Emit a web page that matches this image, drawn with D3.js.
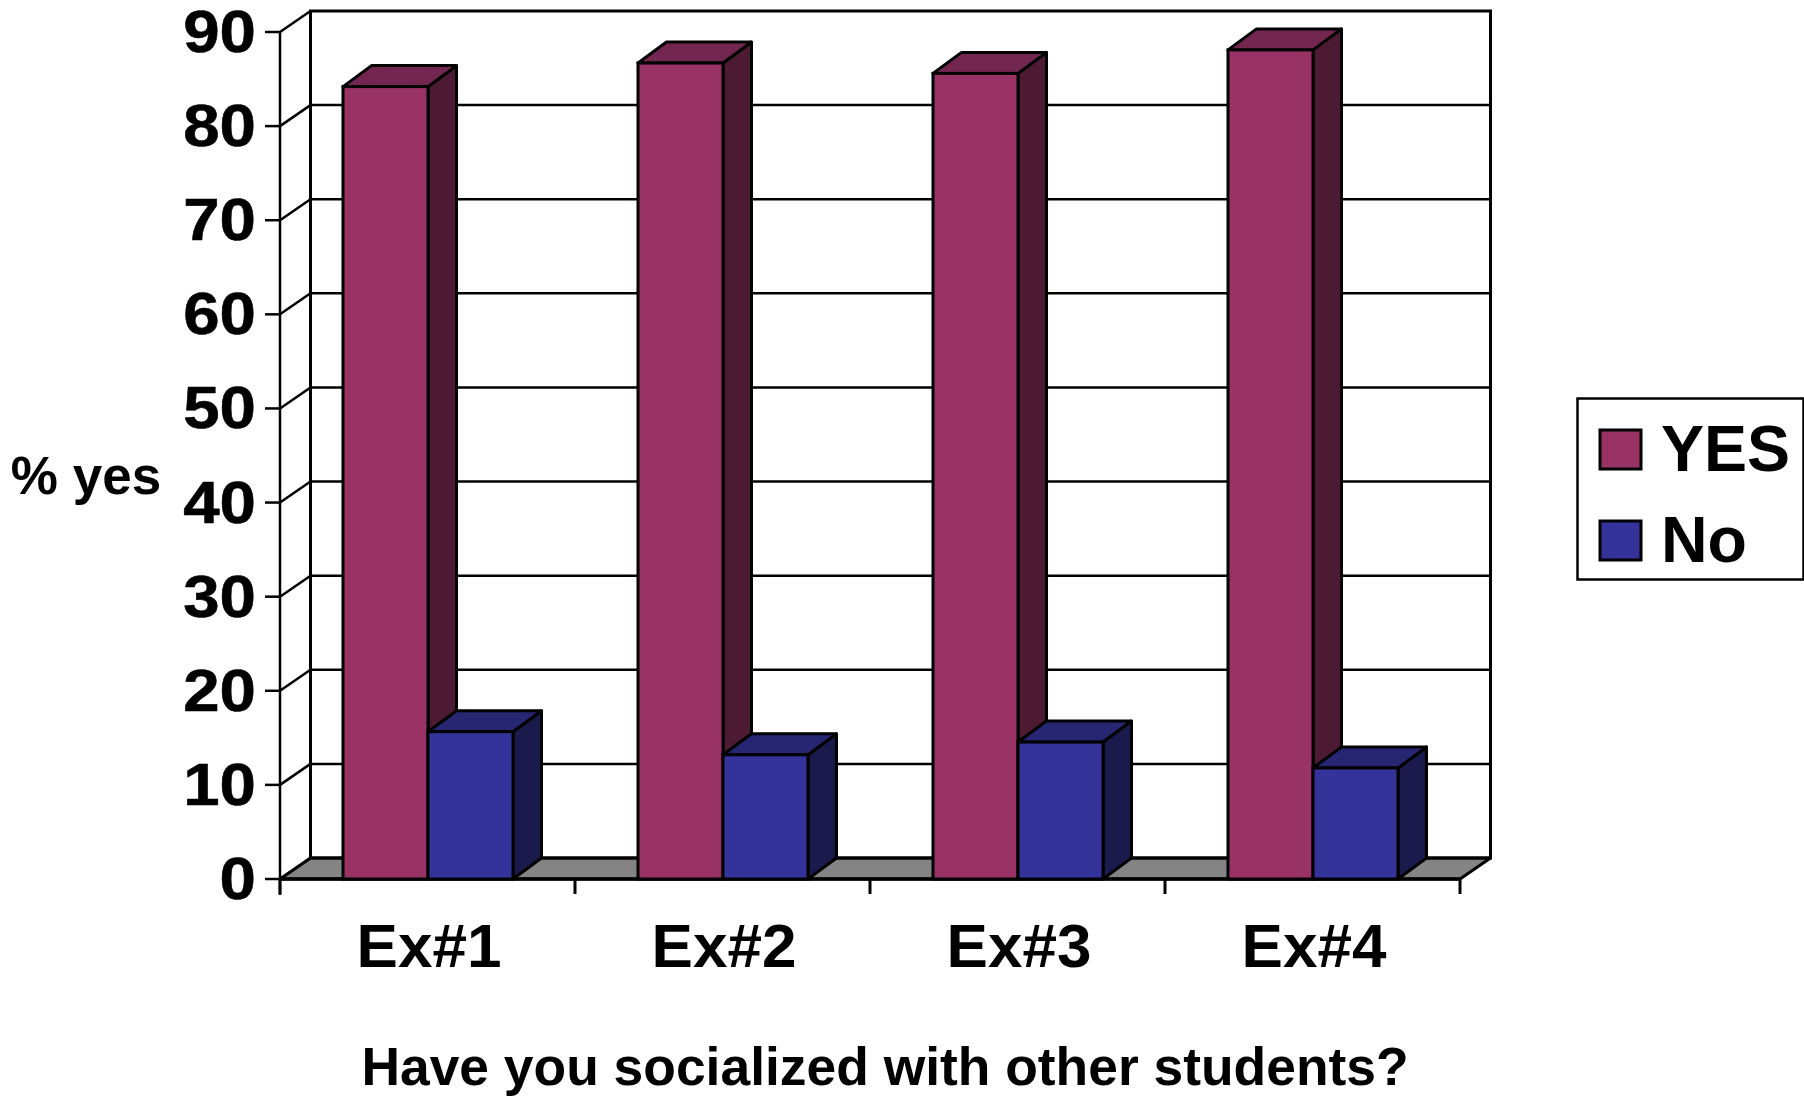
<!DOCTYPE html>
<html><head><meta charset="utf-8">
<script src="https://cdn.jsdelivr.net/npm/d3@7"></script>
<style>html,body{margin:0;background:#fff}svg{display:block}text{font-family:"Liberation Sans",Arial,sans-serif;font-weight:700;fill:#000}</style>
</head><body><svg id="c" width="1804" height="1099"></svg>
<script>
const categories=["Ex#1","Ex#2","Ex#3","Ex#4"];
const yesValues=[84.2,86.7,85.6,88.1];
const noValues=[15.65,13.2,14.55,11.8];
const yTicks=[0,10,20,30,40,50,60,70,80,90];
const legendLabels=["YES","No"];
const colors={YES:["#993366","#732650","#4d1a33"],No:["#333399","#262673","#1a1a4d"]};
const svg=d3.select("#c");
const y=d3.scaleLinear().domain([0,90]).range([879,32]);
const x=d3.scaleBand().domain(categories).range([280,1460]);
const dx=30.5,dy=-21,bdx=28.5,bdy=-21,bw=85;
const poly=(pts,fill,sw=3)=>svg.append("polygon").attr("points",pts.map(p=>p.join(",")).join(" ")).attr("fill",fill).attr("stroke","#000").attr("stroke-width",sw).attr("stroke-linejoin","round");
const line=(a,b,c,d,sw=3,s="#000")=>svg.append("line").attr("x1",a).attr("y1",b).attr("x2",c).attr("y2",d).attr("stroke",s).attr("stroke-width",sw);
const L=280,R=1460,B=y(0),T=y(90);
// floor
poly([[L,B],[L+dx,B+dy],[R+dx,B+dy],[R,B]],"#848484",3);
// walls
svg.append("rect").attr("x",L+dx).attr("y",T+dy).attr("width",R-L).attr("height",B-T).attr("fill","none").attr("stroke","#000").attr("stroke-width",3);
line(L,T,L,B+16,2.5);
yTicks.forEach(t=>{
  const v=y(t);
  if(t>0&&t<90) line(L+dx,v+dy,R+dx,v+dy,2.5);
  line(L,v,L+dx,v+dy,2.5);
  line(L-15,v,L,v,2.5);
  svg.append("text").attr("transform",`translate(256,${v+20}) scale(1.09,1)`).attr("text-anchor","end").attr("font-size",60).style("stroke","#000").style("stroke-width",0.6).text(t);
});
// x ticks
d3.range(0,5).forEach(i=>{const tx=L+i*x.bandwidth();line(tx,B,tx,B+15,3);});
line(L,B,R,B,3.5);
// bars
const bar=(cx,v,c)=>{
  const t=y(v);
  poly([[cx+bw,t],[cx+bw+bdx,t+bdy],[cx+bw+bdx,B+bdy],[cx+bw,B]],c[2]);
  poly([[cx,t],[cx+bdx,t+bdy],[cx+bw+bdx,t+bdy],[cx+bw,t]],c[1]);
  svg.append("rect").attr("x",cx).attr("y",t).attr("width",bw).attr("height",B-t).attr("fill",c[0]).attr("stroke","#000").attr("stroke-width",3);
};
categories.forEach((cat,i)=>{
  const x0=x(cat)+(x.bandwidth()-2*bw)/2+0.5;
  bar(x0,yesValues[i],colors.YES);
  bar(x0+bw,noValues[i],colors.No);
  svg.append("text").attr("x",x(cat)+x.bandwidth()/2+1.5).attr("y",967).attr("text-anchor","middle").attr("font-size",62).text(cat);
});
svg.append("text").attr("x",86).attr("y",494).attr("text-anchor","middle").attr("font-size",53).text("% yes");
svg.append("text").attr("x",885).attr("y",1085).attr("text-anchor","middle").attr("font-size",53.4).text("Have you socialized with other students?");
// legend
svg.append("rect").attr("x",1577.5).attr("y",398.5).attr("width",226).attr("height",181).attr("fill","#fff").attr("stroke","#000").attr("stroke-width",2.5);
legendLabels.forEach((l,i)=>{
  const ly=430+i*91;
  svg.append("rect").attr("x",1600).attr("y",ly).attr("width",41).attr("height",39).attr("fill",colors[l][0]).attr("stroke","#000").attr("stroke-width",3);
  svg.append("text").attr("x",1661).attr("y",ly+41).attr("font-size",64.5).text(l);
});
</script></body></html>
